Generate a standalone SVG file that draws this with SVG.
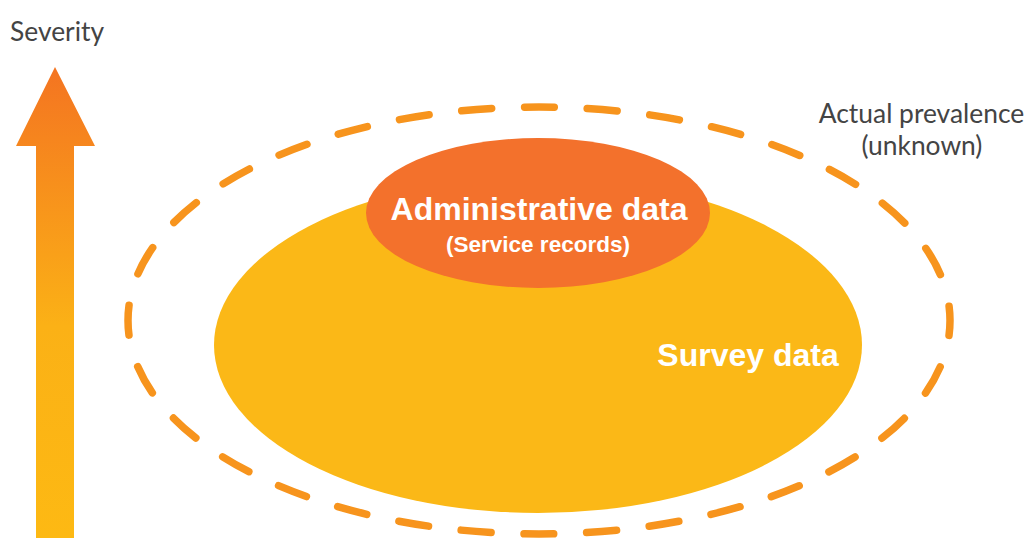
<svg xmlns="http://www.w3.org/2000/svg" width="1030" height="538" viewBox="0 0 1030 538">
<style>
.lbl{font-family:Lato,"Open Sans",sans-serif;fill:#444;font-size:26.4px}
.w{font-family:"Liberation Sans",Arial,sans-serif;fill:#fff;font-weight:bold}
</style>
<defs>
<linearGradient id="ag" x1="0" y1="67" x2="0" y2="538" gradientUnits="userSpaceOnUse">
<stop offset="0" stop-color="#F47421"/>
<stop offset="0.55" stop-color="#FBB116"/>
<stop offset="1" stop-color="#FDB913"/>
</linearGradient>
</defs>
<g id="severity-arrow">
<polygon points="55,67 95,146 74,146 74,538 36,538 36,146 16,146" fill="url(#ag)"/>
<text class="lbl" x="10" y="41">Severity</text>
</g>
<g id="actual-prevalence">
<ellipse cx="539" cy="320.5" rx="411" ry="213.5" fill="none" stroke="#F7941D" stroke-width="7.5" stroke-linecap="round" stroke-dasharray="30 32.85" stroke-dashoffset="15"/>
<text class="lbl" x="921.5" y="123" text-anchor="middle">Actual prevalence</text>
<text class="lbl" x="922" y="155" text-anchor="middle">(unknown)</text>
</g>
<g id="survey-data">
<ellipse cx="538" cy="345" rx="324" ry="168" fill="#FBB817"/>
<text class="w" x="748" y="366" text-anchor="middle" font-size="32">Survey data</text>
</g>
<g id="administrative-data">
<ellipse cx="538" cy="213" rx="172" ry="75" fill="#F3712C"/>
<text class="w" x="539" y="220" text-anchor="middle" font-size="32">Administrative data</text>
<text class="w" x="538" y="252" text-anchor="middle" font-size="22.5">(Service records)</text>
</g>
<g id="connectors"/>
</svg>
